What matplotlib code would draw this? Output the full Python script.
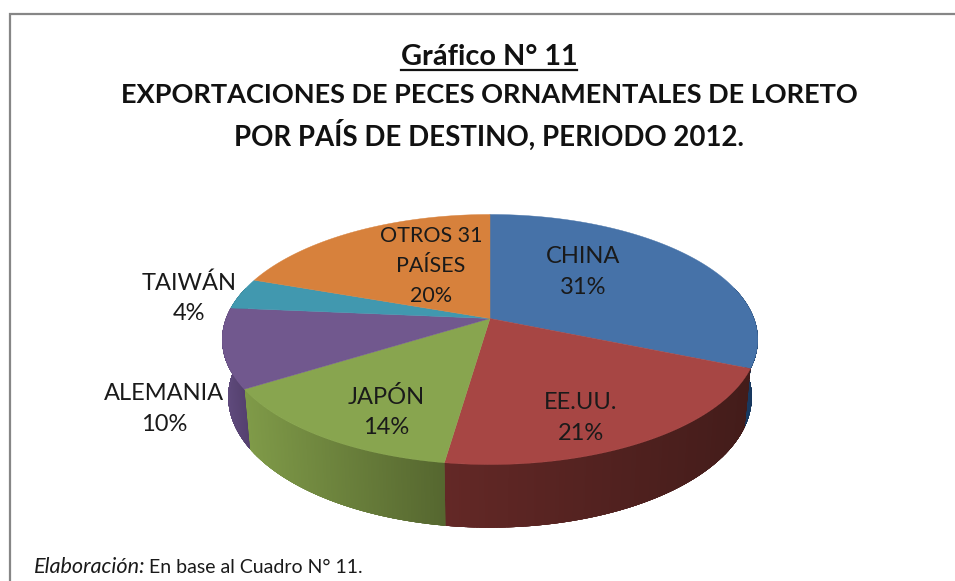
import numpy as np
import matplotlib
matplotlib.use("Agg")
import matplotlib.pyplot as plt
from matplotlib.collections import PolyCollection
from matplotlib.colors import to_rgb
from matplotlib.patches import Polygon

categories = ["CHINA", "EE.UU.", "JAPÓN", "ALEMANIA", "TAIWÁN", "OTROS 31\nPAÍSES"]
values = [31.3, 21.0, 13.8, 10.3, 4.0, 19.6]
top_colors = ["#4672a8", "#a74644", "#88a54f", "#71588e", "#4198af", "#d7813c"]
side_left = ["#1c3f66", "#632826", "#7f9a48", "#5f4a7c", "#36808f", "#b06a30"]
side_right = ["#17375e", "#431c1a", "#55662f", "#54406e", "#2f7080", "#a06030"]
title_lines = ["Gráfico N° 11",
               "EXPORTACIONES DE PECES ORNAMENTALES DE LORETO",
               "POR PAÍS DE DESTINO, PERIODO 2012."]
note_italic = "Elaboración:"
note_plain = "En base al Cuadro N° 11."

plt.rcParams["font.family"] = ["Lato", "DejaVu Sans"]
W, H = 955, 581
fig = plt.figure(figsize=(W / 100, H / 100), dpi=100, facecolor="white")
ax = fig.add_axes([0, 0, 1, 1])
ax.set_xlim(0, W)
ax.set_ylim(H, 0)
ax.axis("off")

# frame
ax.plot([9.5, 9.5, W], [H, 13.7, 13.7], color="#868686", lw=1.6, solid_joinstyle="miter")

K = 0.168


def rim(theta, cx, cy, a, b):
    u, v = np.sin(theta), np.cos(theta)
    w = 1 + K * v
    return cx + a * u / w, cy - b * v / w


TOP = (490, 318.5, 264, 121.5)
BOT = (490, 375, 258, 127)
fracs = np.cumsum([0] + values) / sum(values) * 2 * np.pi

# side wall: thin quads shaded along each slice, clipped to a smooth outline
for i in range(len(values)):
    lo, hi = max(fracs[i], np.radians(75)), min(fracs[i + 1], np.radians(285))
    if hi <= lo:
        continue
    n = max(int(np.degrees(hi - lo)) * 3, 2)
    th = np.linspace(lo, hi, n + 1)
    xt, yt = rim(th, *TOP)
    xb, yb = rim(th, *BOT)
    c0, c1 = np.array(to_rgb(side_left[i])), np.array(to_rgb(side_right[i]))
    outline = Polygon(np.column_stack([np.r_[xt, xb[::-1]], np.r_[yt, yb[::-1]]]), closed=True,
                      facecolor=(c0 + c1) / 2, edgecolor="none", zorder=2)
    ax.add_patch(outline)
    quads, cols = [], []
    xmin, xmax = xt.min(), xt.max()
    for j in range(n):
        quads.append([(xt[j], yt[j] - 2), (xt[j + 1], yt[j + 1] - 2),
                      (xb[j + 1], yb[j + 1] + 2), (xb[j], yb[j] + 2)])
        t = ((xt[j] + xt[j + 1]) / 2 - xmin) / max(xmax - xmin, 1)
        cols.append(c0 + (c1 - c0) * t)
    pc = PolyCollection(quads, facecolors=cols, edgecolors=cols, linewidths=1.0,
                        antialiaseds=False, zorder=2.1)
    ax.add_collection(pc)
    pc.set_clip_path(outline)

# top face
for i in range(len(values)):
    th = np.linspace(fracs[i], fracs[i + 1], 200)
    xs, ys = rim(th, *TOP)
    pts = np.column_stack([np.r_[TOP[0], xs], np.r_[TOP[1], ys]])
    ax.add_patch(Polygon(pts, closed=True, facecolor=top_colors[i],
                         edgecolor=top_colors[i], lw=0.3, zorder=3))

# slice labels
label_pos = [(583, 272), (581, 418), (386, 412), (164, 409), (189, 298), (431, 266)]
label_size = [17, 17, 17, 17, 17, 15.5]
label_spacing = [1.55, 1.55, 1.55, 1.55, 1.55, 1.65]
for name, val, (x, y), fs, ls in zip(categories, values, label_pos, label_size, label_spacing):
    ax.text(x, y, f"{name}\n{val:.0f}%", ha="center", va="center", fontsize=fs,
            color="#1a1a1a", linespacing=ls, zorder=5)

# titles
ax.text(489, 65, title_lines[0], ha="center", va="baseline", fontsize=20.8, fontweight="bold", color="#111111")
ax.plot([401, 577], [70, 70], color="#111111", lw=1.6)
ax.text(489, 103, title_lines[1], ha="center", va="baseline", fontsize=19.5, fontweight="bold", color="#111111")
ax.text(489, 146, title_lines[2], ha="center", va="baseline", fontsize=19.9, fontweight="bold", color="#111111")

# note
ax.text(34, 573, note_italic, ha="left", va="baseline", fontsize=15.6, style="italic", color="#1a1a1a")
ax.text(149, 573, note_plain, ha="left", va="baseline", fontsize=14, color="#1a1a1a")

fig.savefig("out.png", dpi=100, facecolor="white")
